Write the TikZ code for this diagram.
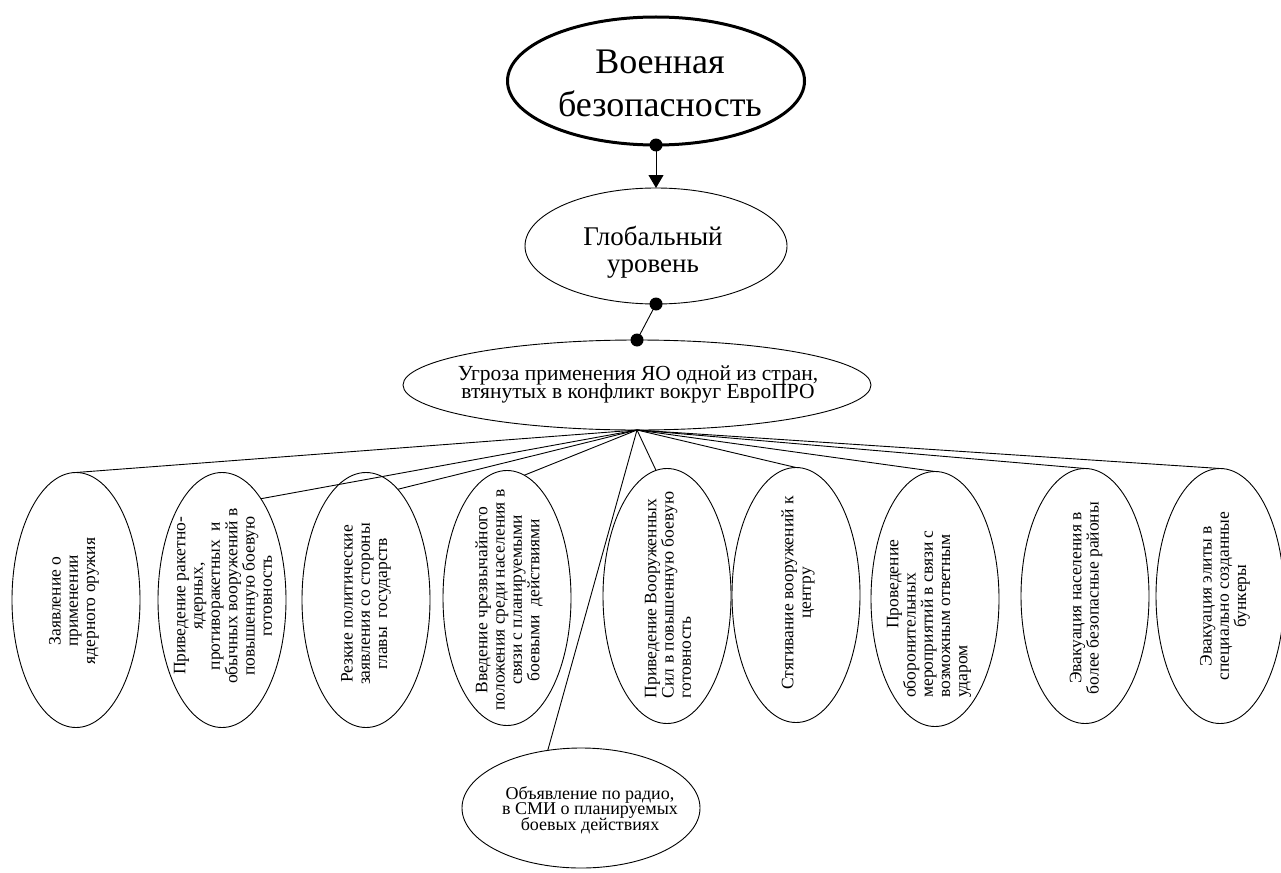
\documentclass[tikz,border=0pt]{standalone}
\usepackage{fontspec}
\setmainfont{Liberation Serif}
\usetikzlibrary{shapes.geometric,arrows.meta}
\newcommand{\tightls}{\lineskiplimit=-100pt\relax}
\begin{document}
\begin{tikzpicture}[x=1pt,y=-1pt,
  oval/.style={draw=black, line width=0.9pt, ellipse, inner sep=0pt, outer sep=0pt},
  tall/.style={oval, minimum width=128pt, minimum height=255pt},
  vtext/.style={rotate=90, align=center, inner sep=0pt, font={\fontsize{17.5}{17.3}\selectfont\tightls}},
  vtextl/.style={vtext, align=left},
  dot/.style={circle, fill=black, inner sep=0pt, minimum size=13pt},
  arr/.style={line width=0.9pt, -{Triangle[width=15pt,length=13pt]}},
  conn/.style={line width=0.9pt}
]
\useasboundingbox (0,0) rectangle (1281,872);
\fill[white] (0,0) rectangle (1281,872);

% top level
\node[oval, line width=3pt, minimum width=297pt, minimum height=128pt] (top) at (656,81) {};
\node[align=center, inner sep=0pt, font={\fontsize{36}{43}\selectfont}] (toptext) at (660,83) {Военная\\безопасность};

\node[oval, minimum width=262pt, minimum height=116pt] (glob) at (656,246) {};
\node[align=center, inner sep=0pt, font={\fontsize{27}{27}\selectfont\tightls}] (globtext) at (653,252) {Глобальный\\уровень};

\node[oval, minimum width=468pt, minimum height=90pt] (threat) at (637,385) {};
\node[align=center, inner sep=0pt, font={\fontsize{21.5}{18}\selectfont\tightls}] (threattext) at (638,384) {Угроза применения ЯО одной из стран,\\втянутых в конфликт вокруг ЕвроПРО};

% lower ellipses
\node[tall] (e1) at (76,600) {};
\node[vtext] (t1) at (74,601) {Заявление о\\применении\\ядерного оружия};
\node[tall] (e2) at (222,600) {};
\node[vtext] (t2) at (223,596) {Приведение ракетно-\\ядерных,\\противоракетных\ \ и\\обычных вооружений в\\повышенную боевую\\готовность};
\node[tall] (e3) at (366,600) {};
\node[vtext] (t3) at (366,604) {Резкие политические\\заявления со стороны\\главы\ \ государств};
\node[tall] (e4) at (507,598) {};
\node[vtext] (t4) at (509,600) {Введение чрезвычайного\\положения среди населения в\\связи с планируемыми\\боевыми\ \ действиями};
\node[tall] (e5) at (667,596) {};
\node[vtextl] (t5) at (668,595) {Приведение Вооруженных\\Сил в повышенную боевую\\готовность};
\node[tall] (e6) at (796,595) {};
\node[vtext] (t6) at (798,593) {Стягивание вооружений к\\центру};
\node[tall] (e7) at (935,599) {};
\node[vtextl] (t7) at (929,614) {\hspace*{69pt}Проведение\\оборонительных\\мероприятий в связи с\\возможным ответным\\ударом};
\node[tall] (e8) at (1085,596) {};
\node[vtext] (t8) at (1086,598) {Эвакуация населения в\\более безопасные районы};
\node[tall] (e9) at (1220,596) {};
\node[vtext] (t9) at (1225,596) {Эвакуация элиты в\\специально созданные\\бункеры};

\node[oval, minimum width=238pt, minimum height=120pt] (radio) at (581,808) {};
\node[align=center, inner sep=0pt, font={\fontsize{18}{15.5}\selectfont\tightls}] (radiotext) at (590,810) {Объявление по радио,\\в СМИ о планируемых\\боевых действиях};

% connectors
\draw[arr] (top.south) -- (glob.north);
\draw[conn] (glob.south) -- (threat.north);
\draw[conn] (threat.south) -- (e1.north);
\draw[conn] (threat.south) -- (e2.69);
\draw[conn] (threat.south) -- (e3.74);
\draw[conn] (threat.south) -- (e4.82);
\draw[conn] (threat.south) -- (e5.95);
\draw[conn] (threat.south) -- (e6.north);
\draw[conn] (threat.south) -- (e7.north);
\draw[conn] (threat.south) -- (e8.north);
\draw[conn] (threat.south) -- (e9.north);
\draw[conn] (threat.south) -- (radio.120);

% dots
\node[dot] (d1) at (top.south) {};
\node[dot] (d2) at (glob.south) {};
\node[dot] (d3) at (threat.north) {};
\end{tikzpicture}
\end{document}
